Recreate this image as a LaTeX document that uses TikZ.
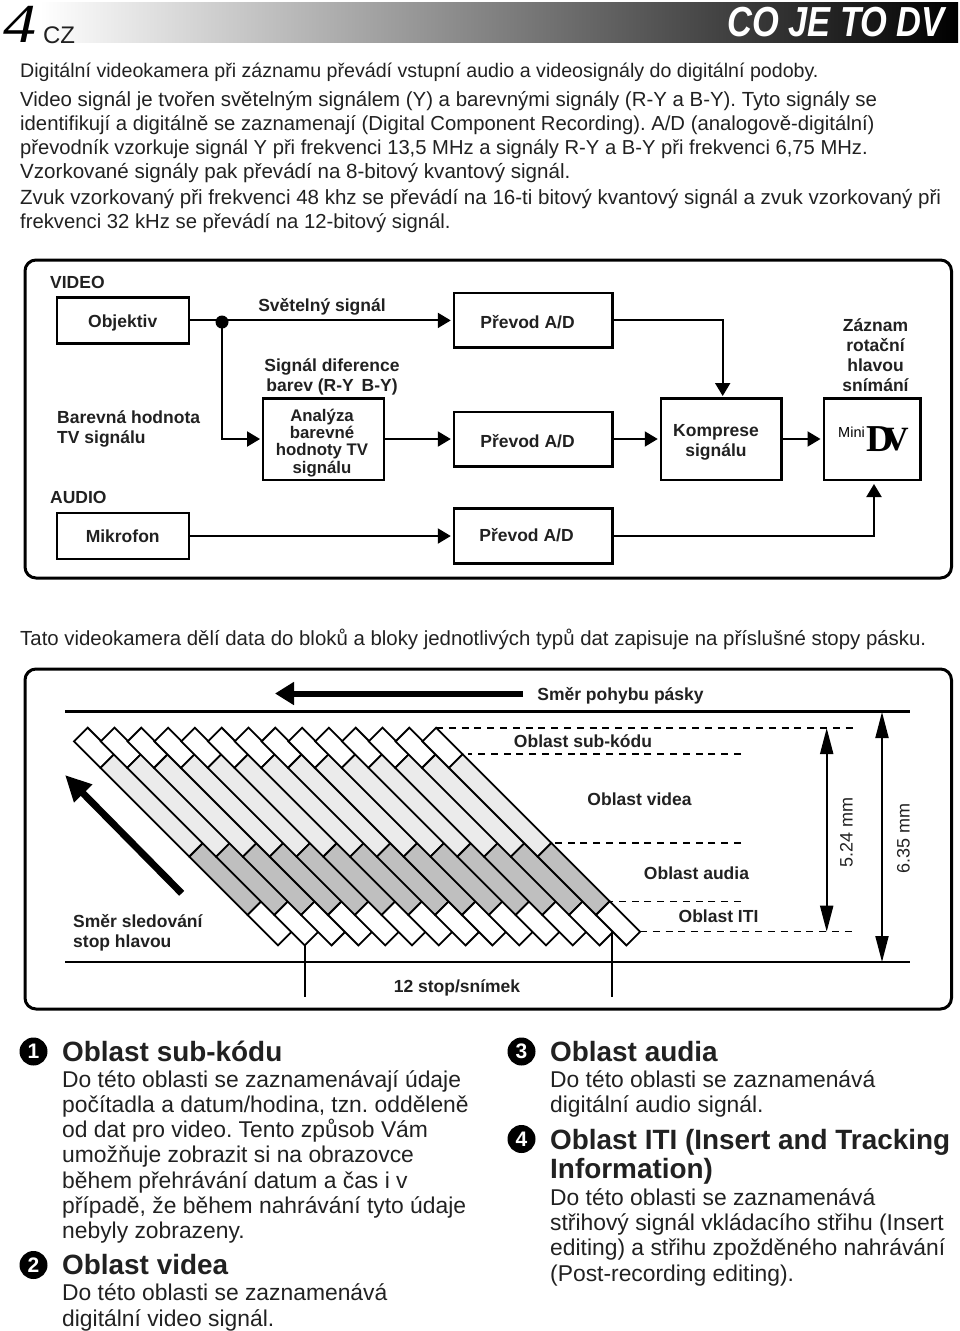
\documentclass[tikz,border=0pt]{standalone}
\usepackage{fontspec}
\setmainfont{Liberation Sans}
\newfontfamily\numfont{Liberation Serif}
\usetikzlibrary{calc,arrows.meta}

\definecolor{videogray}{gray}{0.92}
\definecolor{audiogray}{gray}{0.75}
\definecolor{labelblack}{gray}{0.13}

\tikzset{
  intro/.style={anchor=base west,inner sep=0pt,text=labelblack},
  lab/.style={inner sep=0pt,align=center,font=\bfseries\fontsize{17.5}{20}\selectfont,text=labelblack},
  labw/.style={lab,anchor=west,align=left},
  blockbox/.style={draw,line width=2.4pt,inner sep=0pt},
  frame/.style={draw,line width=3pt,rounded corners=11pt},
  conn/.style={line width=2pt,-{Triangle[length=13pt,width=15pt]},shorten >=2pt},
  head/.style={anchor=base west,inner sep=0pt,font=\bfseries\fontsize{27.9}{30}\selectfont,text=labelblack},
  para/.style={anchor=base west,inner sep=0pt,font=\fontsize{22.85}{24}\selectfont,text=labelblack},
  badge/.style={circle,fill=black,minimum size=28pt,inner sep=0pt,text=white,font=\bfseries\fontsize{21}{21}\selectfont},
  dashline/.style={line width=1.5pt,dash pattern=on 7pt off 5.8pt},
  dimarrow/.style={line width=2pt,{Triangle[length=26pt,width=13pt]}-{Triangle[length=26pt,width=13pt]}},
  bandline/.style={line width=2.6pt}
}

\begin{document}
\frenchspacing
\begin{tikzpicture}[x=1pt,y=-1pt]
\useasboundingbox (0,0) rectangle (960,1331);

% page head
\shade[left color=white,middle color=black!36,right color=black] (40,2) rectangle (958,42);
\node (pagenum) at (20,24.5) [inner sep=0pt,xscale=1.2,transform shape,font=\numfont\itshape\fontsize{55}{55}\selectfont] {4};
\node (lang) at (59,35) [inner sep=0pt,font=\fontsize{24}{24}\selectfont,text=labelblack] {CZ};
\node (title) at (836,22.5) [inner sep=0pt,xscale=.82,transform shape,text=white,font=\bfseries\itshape\fontsize{42}{42}\selectfont] {CO JE TO DV};

% intro text
\foreach \y/\fs/\txt [count=\n] in {
  77.5/19.63/{Digitální videokamera při záznamu převádí vstupní audio a videosignály do digitální podoby.},
  106.5/20.43/{Video signál je tvořen světelným signálem (Y) a barevnými signály (R-Y a B-Y). Tyto signály se},
  130/20.28/{identifikují a digitálně se zaznamenají (Digital Component Recording). A/D (analogově-digitální)},
  154/20.2/{převodník vzorkuje signál Y při frekvenci 13,5 MHz a signály R-Y a B-Y při frekvenci 6,75 MHz.},
  178/20.58/{Vzorkované signály pak převádí na 8-bitový kvantový signál.},
  204.5/20.53/{Zvuk vzorkovaný při frekvenci 48 khz se převádí na 16-ti bitový kvantový signál a zvuk vzorkovaný při},
  228/20.27/{frekvenci 32 kHz se převádí na 12-bitový signál.}}
  \node (intro\n) at (20,\y) [intro,font=\fontsize{\fs}{22}\selectfont] {\txt};

% block diagram
\draw[frame] (25,260) rectangle (951.5,578);
\node (videolab) at (50,282) [labw] {VIDEO};
\node (audiolab) at (50,497) [labw] {AUDIO};

\node (objektiv) at (122.7,320.4) [blockbox,minimum width=132pt,minimum height=46pt] {};
\node at (122.7,323) [lab] {Objektiv};
\node (mikrofon) at (122.7,536) [blockbox,minimum width=132pt,minimum height=46pt] {};
\node at (mikrofon) [lab] {Mikrofon};

\node (prevod1) at (533.3,320.4) [blockbox,minimum width=158.6pt,minimum height=54.4pt] {};
\node at (527.5,322.5) [lab] {Převod A/D};
\node (prevod2) at (533.3,439) [blockbox,minimum width=158.6pt,minimum height=54.6pt] {};
\node at (527.5,441) [lab] {Převod A/D};
\node (prevod3) at (533.3,536) [blockbox,minimum width=158.6pt,minimum height=55pt] {};
\node at (526.5,535.5) [lab] {Převod A/D};

\node (analyza) at (323.6,439) [blockbox,minimum width=120.7pt,minimum height=81.4pt] {};
\node at (322,443) [lab,font=\bfseries\fontsize{16.8}{17.2}\selectfont] {Analýza\\barevné\\hodnoty TV\\signálu};
\node (komprese) at (721.3,439) [blockbox,minimum width=120.7pt,minimum height=81.4pt] {};
\node at (716,442) [lab] {Komprese\\signálu};
\node (minidv) at (872,439) [blockbox,minimum width=96.6pt,minimum height=81.4pt] {};

\node (mini) at (851.5,432) [inner sep=0pt,font=\fontsize{14.5}{15}\selectfont] {Mini};
\node (logod) at (880,439.5) [inner sep=0pt,font=\numfont\bfseries\fontsize{38}{38}\selectfont] {D};
\node (logov) at (896.5,439.5) [inner sep=0pt,font=\numfont\bfseries\fontsize{34}{38}\selectfont] {V};

\node (svetelny) at (322,307) [lab] {Světelný signál};
\node (diference) at (332,377) [lab] {Signál diference\\barev (R-Y\, B-Y)};
\node (barevna) at (57,429) [labw] {Barevná hodnota\\TV signálu};
\node (zaznam) at (875.5,355) [lab] {Záznam\\rotační\\hlavou\\snímání};

\node (junction) at (222,322) [circle,fill=black,minimum size=13pt,inner sep=0pt] {};

\draw[conn] (objektiv.east) -- (prevod1.west);
\draw[conn] (junction.center) |- (analyza.west);
\draw[conn] (analyza.east) -- (prevod2.west);
\draw[conn] (prevod1.east) -| (722.7,398);
\draw[conn] (prevod2.east) -- (komprese.west);
\draw[conn] (komprese.east) -- (minidv.west);
\draw[conn] (mikrofon.east) -- (prevod3.west);
\draw[conn] (prevod3.east) -| (874,482);

\node (tato) at (20,645.5) [intro,font=\fontsize{20.4}{22}\selectfont] {Tato videokamera dělí data do bloků a bloky jednotlivých typů dat zapisuje na příslušné stopy pásku.};

% tape diagram
\draw[frame] (25,669) rectangle (951.5,1009);
\draw[bandline] (65,711.7) -- (910,711.7);
\draw[bandline] (65,962) -- (910,962);

\draw[line width=6pt,-{Triangle[length=19pt,width=22pt]}] (523,693.5) -- (275,693.5);
\node (pohyb) at (620.5,696) [lab] {Směr pohybu pásky};

\foreach \i in {0,...,13} {
  \pgfmathsetmacro{\xa}{74+26.8*\i}
  \foreach \ta/\tb/\tone in {0/26.5/white,26.5/115.3/videogray,115.3/173.6/audiogray,173.6/204/white} {
    \draw[line width=1.8pt,fill=\tone] (\xa+\ta,741.4+\ta) -- (\xa+\ta+13.7,727.7+\ta) -- (\xa+\tb+13.7,727.7+\tb) -- (\xa+\tb,741.4+\tb) -- cycle;
  }
}

\draw[dashline] (436,728) -- (853,728);
\draw[dashline] (741,754) -- (468,754);
\draw[dashline] (741,843) -- (550,843);
\draw[dashline] (741,901.3) -- (610,901.3);
\draw[dashline] (640,931.7) -- (853,931.7);

\node (subkod) at (583,741) [lab] {Oblast sub-kódu};
\node (videa) at (639.5,799) [lab] {Oblast videa};
\node (audia) at (696.5,873) [lab] {Oblast audia};
\node (iti) at (718.5,916) [lab] {Oblast ITI};

\coordinate (d1top) at (826.7,728);
\coordinate (d1bot) at (826.7,931.7);
\coordinate (d2top) at (882,712);
\coordinate (d2bot) at (882,962);
\draw[dimarrow] (d1top) -- (d1bot);
\draw[dimarrow] (d2top) -- (d2bot);
\node (dima) at (846.5,832) [rotate=90,inner sep=0pt,font=\fontsize{18}{20}\selectfont,text=labelblack] {5.24 mm};
\node (dimb) at (903.5,838) [rotate=90,inner sep=0pt,font=\fontsize{18}{20}\selectfont,text=labelblack] {6.35 mm};

\draw[line width=7pt,-{Triangle[length=26pt,width=24pt]}] (181.7,893.3) -- (65,775);
\node (sledovani) at (73,933) [labw] {Směr sledování\\stop hlavou};

\draw[line width=2pt] (304.7,945) -- (304.7,996.7);
\draw[line width=2pt] (612.3,931.7) -- (612.3,996.7);
\node (stopy) at (457,988) [lab] {12 stop/snímek};

% notes
\node (b1) at (33.5,1051.5) [badge] {1};
\node (h1) at (62,1061) [head] {Oblast sub-kódu};
\foreach \y/\txt [count=\n] in {
  1087/{Do této oblasti se zaznamenávají údaje},
  1112/{počítadla a datum/hodina, tzn. odděleně},
  1137.5/{od dat pro video. Tento způsob Vám},
  1162.5/{umožňuje zobrazit si na obrazovce},
  1188/{během přehrávání datum a čas i v},
  1213/{případě, že během nahrávání tyto údaje},
  1238.5/{nebyly zobrazeny.}}
  \node (p1\n) at (62,\y) [para] {\txt};

\node (b2) at (33.5,1265) [badge] {2};
\node (h2) at (62,1274) [head] {Oblast videa};
\node (p21) at (62,1300) [para] {Do této oblasti se zaznamenává};
\node (p22) at (62,1326) [para] {digitální video signál.};

\node (b3) at (521.5,1051.5) [badge] {3};
\node (h3) at (550,1061) [head] {Oblast audia};
\node (p31) at (550,1087) [para] {Do této oblasti se zaznamenává};
\node (p32) at (550,1112.5) [para] {digitální audio signál.};

\node (b4) at (521.5,1139) [badge] {4};
\node (h4a) at (550,1149) [head] {Oblast ITI (Insert and Tracking};
\node (h4b) at (550,1178) [head] {Information)};
\foreach \y/\txt [count=\n] in {
  1205/{Do této oblasti se zaznamenává},
  1230/{střihový signál vkládacího střihu (Insert},
  1255.5/{editing) a střihu zpožděného nahrávání},
  1281/{(Post-recording editing).}}
  \node (p4\n) at (550,\y) [para] {\txt};

\end{tikzpicture}
\end{document}
